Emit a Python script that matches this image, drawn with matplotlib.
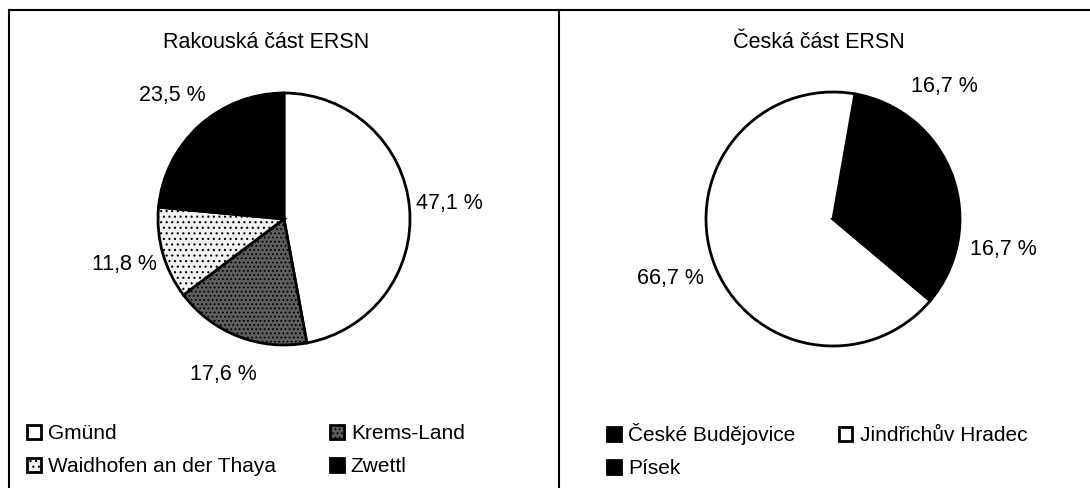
import matplotlib
matplotlib.use("Agg")
import matplotlib.pyplot as plt
from matplotlib.lines import Line2D

plt.rcParams['font.family'] = ['Liberation Sans', 'DejaVu Sans']
plt.rcParams['hatch.linewidth'] = 0.8

# data
at_title = "Rakouská část ERSN"
at_names = ["Gmünd", "Krems-Land", "Waidhofen an der Thaya", "Zwettl"]
at_values = [47.1, 17.6, 11.8, 23.5]

cz_title = "Česká část ERSN"
cz_names = ["České Budějovice", "Jindřichův Hradec", "Písek"]
cz_values = [16.7, 66.7, 16.7]

W, H = 1090, 488
fig = plt.figure(figsize=(W / 100, H / 100), dpi=100)


def fx(x):
    return x / W


def fy(y):
    return 1 - y / H


def pct(v):
    return f"{v:.1f} %".replace(".", ",")


def pie_axes(cx, cy, r):
    half = 1.6 * r
    ax = fig.add_axes([fx(cx - half), fy(cy + half), 2 * half / W, 2 * half / H])
    return ax


def fix_limits(ax):
    ax.set_xlim(-1.6, 1.6)
    ax.set_ylim(-1.6, 1.6)
    ax.axis('off')


# left chart
ax1 = pie_axes(284, 219, 126)
w1, t1 = ax1.pie(at_values, labels=[pct(v) for v in at_values],
                 colors=["white", "#5e5e5e", "#f2f2f2", "black"],
                 hatch=["", "....", "...", ""],
                 startangle=90, counterclock=False, labeldistance=1.32,
                 wedgeprops=dict(edgecolor="black", linewidth=2),
                 textprops=dict(fontsize=15.5))
for t in t1:
    t.set_ha("center")
fix_limits(ax1)

# right chart
ax2 = pie_axes(833, 219, 127)
w2, t2 = ax2.pie(cz_values, labels=[pct(v) for v in cz_values],
                 colors=["black", "white", "black"],
                 startangle=20, labeldistance=1.36,
                 wedgeprops=dict(edgecolor="black", linewidth=2),
                 textprops=dict(fontsize=15.5))
for t in t2:
    t.set_ha("center")
fix_limits(ax2)

fig.text(fx(266), fy(42), at_title, ha="center", va="center", fontsize=15.5)
fig.text(fx(819), fy(42), cz_title, ha="center", va="center", fontsize=15.5)

leg_kw = dict(loc="upper left", frameon=False, ncol=2, fontsize=15,
              handlelength=0.65, handleheight=0.65, handletextpad=0.35,
              labelspacing=0.68, borderpad=0, borderaxespad=0)
fig.legend([w1[0], w1[2], w1[1], w1[3]],
           [at_names[0], at_names[2], at_names[1], at_names[3]],
           bbox_to_anchor=(fx(27), fy(424)), columnspacing=2.6, **leg_kw)
fig.legend([w2[0], w2[2], w2[1]],
           [cz_names[0], cz_names[2], cz_names[1]],
           bbox_to_anchor=(fx(607), fy(423)), columnspacing=2.1, **leg_kw)

# frame lines of the two chart boxes
fig.add_artist(Line2D([fx(9), 1], [fy(10), fy(10)], color="black", lw=1.5))
fig.add_artist(Line2D([fx(9), fx(9)], [fy(10), 0], color="black", lw=1.5))
fig.add_artist(Line2D([fx(559), fx(559)], [fy(10), 0], color="black", lw=1.5))

fig.savefig("out.png", dpi=100)
